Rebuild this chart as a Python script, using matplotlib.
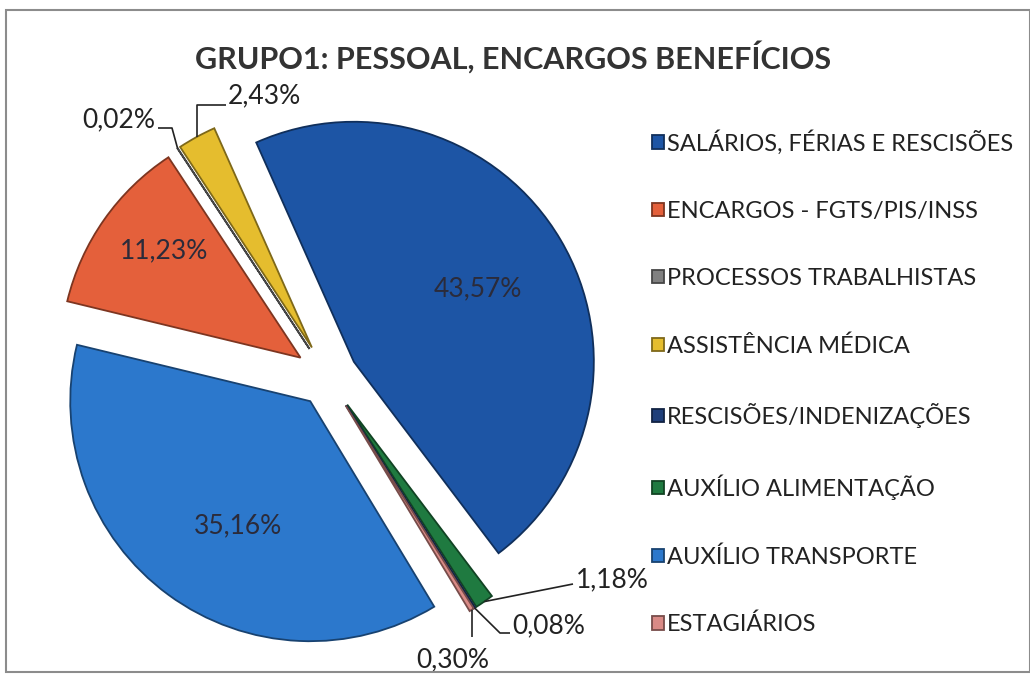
import numpy as np
import matplotlib.pyplot as plt
import matplotlib.colors as mcolors
from matplotlib.patches import Rectangle

plt.rcParams['font.family'] = ['Lato', 'DejaVu Sans']

# Data (legend order)
title = 'GRUPO1: PESSOAL, ENCARGOS BENEFÍCIOS'
categories = ['SALÁRIOS, FÉRIAS E RESCISÕES', 'ENCARGOS - FGTS/PIS/INSS',
              'PROCESSOS TRABALHISTAS', 'ASSISTÊNCIA MÉDICA',
              'RESCISÕES/INDENIZAÇÕES', 'AUXÍLIO ALIMENTAÇÃO',
              'AUXÍLIO TRANSPORTE', 'ESTAGIÁRIOS']
values = [43.57, 11.23, 0.02, 2.43, 0.08, 1.18, 35.16, 0.30]
colors = ['#1d55a5', '#e4603b', '#808080', '#e5bd2e',
          '#1f3f7a', '#1f7a40', '#2c78cc', '#d98a86']
explode = [0.125, 0.14, 0.14, 0.14, 0.14, 0.14, 0.125, 0.14]
# slice order going clockwise from the top of the pie
draw_order = [0, 5, 4, 7, 6, 1, 2, 3]

W, H = 1030, 683
cx, cy, R = 328, 377, 240   # pie centre and radius in pixels


def px(x, y):
    # pixel position -> data coords of the pie axes
    return (x - cx) / R, (cy - y) / R


fig = plt.figure(figsize=(W / 100, H / 100), dpi=100)
ax = fig.add_axes([0, 0, 1, 1])

wedges, _ = ax.pie([values[i] for i in draw_order],
                   colors=[colors[i] for i in draw_order],
                   explode=[explode[i] for i in draw_order],
                   startangle=114, counterclock=False, radius=1)
wedge_of = {cat_i: w for cat_i, w in zip(draw_order, wedges)}
for i, w in wedge_of.items():
    dark = np.array(mcolors.to_rgb(colors[i])) * 0.55
    w.set_edgecolor(dark)
    w.set_linewidth(1.3)

ax.set_aspect('auto')
ax.set_xlim(-cx / R, (W - cx) / R)
ax.set_ylim(-(H - cy) / R, cy / R)
ax.axis('off')


def fmt(v):
    return f'{v:.2f}%'.replace('.', ',')


def wedge_point(w, frac, turn=0.0):
    mid = np.deg2rad((w.theta1 + w.theta2) / 2 + turn)
    return (w.center[0] + frac * w.r * np.cos(mid),
            w.center[1] + frac * w.r * np.sin(mid))


# labels inside the big slices (distance from tip, angle nudge)
inside = {0: (0.6, 0), 6: (0.6, 6), 1: (0.72, -3)}
for i, (frac, turn) in inside.items():
    x, y = wedge_point(wedge_of[i], frac, turn)
    ax.text(x, y, fmt(values[i]), ha='center', va='center',
            fontsize=19, color='#2b2b3a')

# labels outside with leader lines: (elbow points in px, text pos px, ha)
outside = {
    3: ([('x', 105), (226, 105)], (228, 96), 'left'),
    2: ([(172, 128), (158, 128)], (155, 120), 'right'),
    5: ([(573, 584)], (576, 580), 'left'),
    4: ([(500, 633), (510, 633)], (512, 626), 'left'),
    7: ([('x', 637)], (453, 660), 'center'),
}
for i, (elbows, tpos, ha) in outside.items():
    x0, y0 = wedge_point(wedge_of[i], 1.0)
    xs, ys = [x0], [y0]
    for ex, ey in elbows:
        if ex == 'x':
            xs.append(x0)
            ys.append(px(0, ey)[1])
        else:
            dx, dy = px(ex, ey)
            xs.append(dx)
            ys.append(dy)
    ax.plot(xs, ys, color='#222222', lw=1.2, solid_capstyle='butt')
    tx, ty = px(*tpos)
    ax.text(tx, ty, fmt(values[i]), ha=ha, va='center', fontsize=19,
            color='#222222')

# title
fig.text(513 / W, 1 - 57 / H, title, ha='center', va='center',
         fontsize=22, fontweight='bold', color='#333333')

# legend
fig.legend([wedge_of[i] for i in range(len(categories))], categories,
           loc='upper left', bbox_to_anchor=(640 / W, 1 - 118 / H),
           frameon=False, fontsize=17, handlelength=0.5, handleheight=0.5,
           handletextpad=0.15, labelspacing=1.96, borderpad=0,
           labelcolor='#222222')

# chart border
fig.patches.append(Rectangle((6 / W, 1 - 672 / H), 1 - 6 / W, (672 - 10) / H,
                             transform=fig.transFigure, fill=False,
                             edgecolor='#8c8c8c', lw=1.5))

fig.savefig('out.png', dpi=100)
